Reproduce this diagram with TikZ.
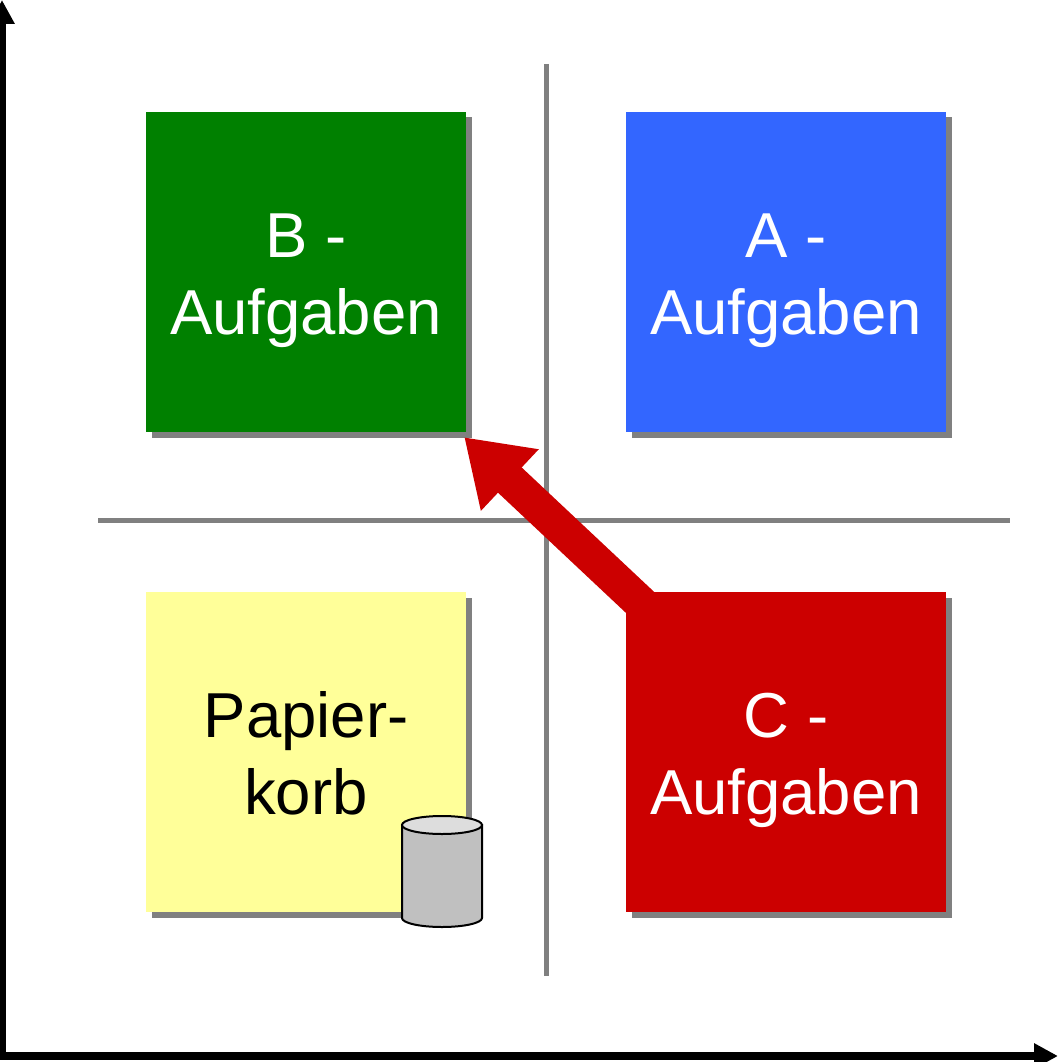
\documentclass[tikz,border=0pt]{standalone}
\usepackage{fontspec}
\setmainfont{Liberation Sans}
\usetikzlibrary{calc,arrows.meta,shadows}
\definecolor{boxgreen}{HTML}{008000}
\definecolor{boxblue}{HTML}{3366FF}
\definecolor{boxyellow}{HTML}{FFFF99}
\definecolor{boxred}{HTML}{CC0000}
\definecolor{linegray}{HTML}{808080}
\definecolor{bingray}{HTML}{C0C0C0}
\definecolor{bintop}{HTML}{DDDDDD}
\tikzset{
  task/.style={minimum size=320pt, inner sep=0pt, align=center, text=white,
    font=\fontsize{63.5}{77}\selectfont, text height=135pt, text depth=10.4pt,
    general shadow={fill=linegray, shadow xshift=5.5pt, shadow yshift=-5.5pt}},
  divider/.style={linegray, line width=5pt},
  axis/.style={line width=8pt, -{Triangle[length=24pt,width=24pt]}}
}
\begin{document}
\begin{tikzpicture}[x=1pt,y=-1pt]
\useasboundingbox (0,0) rectangle (1057,1062);
\clip (0,0) rectangle (1057,1062);
%the axes
\coordinate (origin) at (2,1056);
\coordinate (ytop) at (2,0);
\coordinate (xend) at (1058,1056);
\draw[axis] (origin) -- (ytop);
\draw[axis] (-2,1056) -- (xend);
%the dividers
\coordinate (vtop) at (546,64);
\coordinate (vbot) at (546,976);
\coordinate (hleft) at (98,520);
\coordinate (hright) at (1010,520);
\draw[divider] (vtop) -- (vbot);
\draw[divider] (hleft) -- (hright);
%the four boxes
\node[task, fill=boxgreen] (boxB) at (306,272) {B -\\Aufgaben};
\node[task, fill=boxblue] (boxA) at (786,272) {A -\\Aufgaben};
\node[task, fill=boxyellow, text=black] (boxP) at (306,752) {Papier-\\korb};
\node[task, fill=boxred] (boxC) at (786,752) {C -\\Aufgaben};
%bin
\coordinate (bintopc) at (442,825);
\draw[black, line width=2pt, fill=bingray] (bintopc) ++(-40,0) -- ++(0,93)
  arc[start angle=180, end angle=360, x radius=40pt, y radius=9pt] -- ++(0,-93) -- cycle;
\draw[black, line width=2pt, fill=bintop] (bintopc) ellipse[x radius=40pt, y radius=9pt];
%from C up to B
\draw[boxred, line width=34.6pt, -{Triangle[length=62.6pt,width=80pt]}]
  ($(boxC.north west)+(20,16)$) -- ($(boxB.south east)+(-2,5)$);
\end{tikzpicture}
\end{document}
